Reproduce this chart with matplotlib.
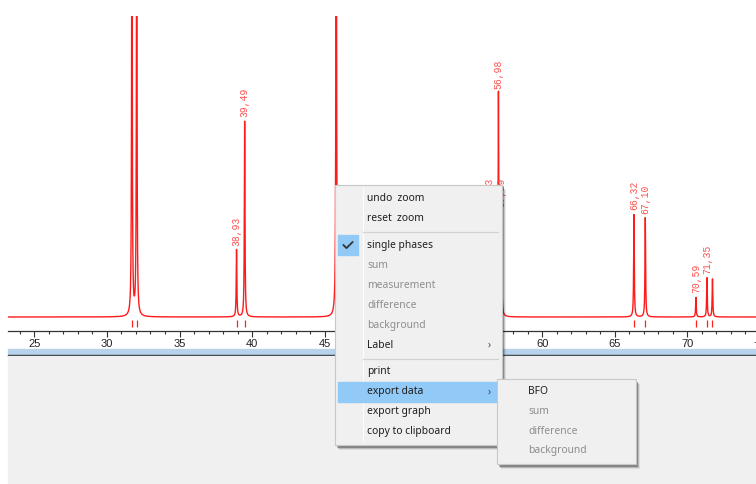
import matplotlib.pyplot as plt
from matplotlib.patches import Rectangle
from matplotlib.transforms import blended_transform_factory
import numpy as np

W, H = 756, 484

# BFO reflections: 2theta position and relative intensity (top of window = 100)
positions = [31.72, 32.05, 38.93, 39.49, 45.80, 56.33, 56.98, 57.19,
             66.32, 67.10, 70.59, 71.35, 71.73]
heights = [160, 150, 22.3, 65, 200, 35, 74.5, 35, 34, 33, 6.5, 13, 12.6]
labelled = [38.93, 39.49, 56.33, 56.98, 57.19, 66.32, 67.10, 70.59, 71.35]

xmin, xmax = 23.18, 74.73
ymax = 100
hwhm = 0.025

main_items = ["undo  zoom", "reset  zoom", None, "single phases", "sum",
              "measurement", "difference", "background", "Label", None,
              "print", "export data", "export graph", "copy to clipboard"]
disabled = ["sum", "measurement", "difference", "background"]
sub_items = ["BFO", "sum", "difference", "background"]


def box(x, y, w, h):
    return [x / W, 1 - (y + h) / H, w / W, h / H]


fig = plt.figure(figsize=(W / 100, H / 100), dpi=100)
fig.patch.set_facecolor("white")

# pattern
ax = fig.add_axes(box(8, 16, 748, 315))
tt = np.round(np.arange(23.0, 75.0, 0.01), 2)
y = np.zeros_like(tt)
for p, h in zip(positions, heights):
    y += h / (1 + ((tt - p) / hwhm) ** 2)
ax.plot(tt, y, color="#ff1a1a", lw=1.0)
ax.set_xlim(xmin, xmax)
ax.set_ylim(-ymax * 14 / 301, ymax)

trans = blended_transform_factory(ax.transData, ax.transAxes)
ax.vlines(positions, 0.013, 0.036, color="#ff2020", lw=0.9, transform=trans)

for p, h in zip(positions, heights):
    if p in labelled:
        ax.annotate(f"{p:.2f}".replace(".", ","), (p, h), xytext=(0, 3),
                    textcoords="offset points", rotation=90, ha="center",
                    va="bottom", fontsize=7, color="#ff5050",
                    family="Liberation Mono")

ax.set_yticks([])
ax.set_xticks(np.arange(25, 75, 5))
ax.set_xticks(np.arange(24, 75, 1), minor=True)
for s in ["top", "left", "right"]:
    ax.spines[s].set_visible(False)
ax.spines["bottom"].set_color("#333333")
ax.spines["bottom"].set_linewidth(0.9)
ax.tick_params(axis="x", which="major", length=4.5, width=0.8, color="#333333",
               labelsize=8, labelcolor="#222222", pad=1.5)
ax.tick_params(axis="x", which="minor", length=2.2, width=0.8, color="#333333")
for lab in ax.get_xticklabels():
    lab.set_family("Liberation Sans")
ax.text(75, -0.035, "75", transform=trans, ha="center", va="top", fontsize=8,
        color="#222222", family="Liberation Sans", clip_on=False)

# window chrome and context menu, in pixel coordinates
ov = fig.add_axes([0, 0, 1, 1], zorder=5)
ov.set_xlim(0, W)
ov.set_ylim(H, 0)
ov.axis("off")
ov.patch.set_visible(False)

ov.add_patch(Rectangle((8, 348.5), 748, 6.5, color="#b9d3ec"))
ov.add_patch(Rectangle((8, 355), 748, 1.3, color="#1c2a30"))
ov.add_patch(Rectangle((8, 356.3), 748, H - 356, color="#f0f0f0"))

menu_font = dict(family="Noto Sans", fontsize=7.4, va="center", zorder=4)


def shadow(x, y, w, h):
    for i, a in enumerate([0.28, 0.16, 0.08]):
        ov.add_patch(Rectangle((x + 2 + i, y + 3 + i), w, h, color="black",
                               alpha=a, lw=0, zorder=1))


# main menu
mx, my, mw, mh = 335, 185, 166.5, 260
shadow(mx, my, mw, mh)
ov.add_patch(Rectangle((mx, my), mw, mh, facecolor="#f0f0f0",
                       edgecolor="#c8c8c8", lw=0.8, zorder=1.5))
ov.add_patch(Rectangle((363, my + 2), 0.9, mh - 4, color="#fdfdfd", lw=0,
                       zorder=1.6))

row = 198.3
for item in main_items:
    if item is None:
        ov.plot([363, 498], [row - 6.6, row - 6.6], color="#d2d2d2", lw=0.9,
                zorder=2)
        row += 13.4 - 20 + 13.4
        continue
    if item == "export data":
        ov.add_patch(Rectangle((338, row - 10), 159, 20, color="#91c9f7",
                               zorder=2))
    if item == "single phases":
        ov.add_patch(Rectangle((338.3, row - 10), 19.5, 20, color="#91c9f7",
                               zorder=2))
        ov.plot([343.5, 346.5, 352.5], [row, row + 3, row - 3],
                color="#333333", lw=1.3, zorder=3)
    col = "#8d8d8d" if item in disabled else "#1e1e1e"
    ov.text(367.3, row, item, color=col, **menu_font)
    if item in ["Label", "export data"]:
        ov.text(489, row, "›", color="#444444", ha="center", **menu_font)
    row += 20

# submenu
sx, sy, sw, sh = 497, 379.3, 139, 84.7
shadow(sx, sy, sw, sh)
ov.add_patch(Rectangle((sx, sy), sw, sh, facecolor="#f0f0f0",
                       edgecolor="#c8c8c8", lw=0.8, zorder=2.5))
for i, item in enumerate(sub_items):
    col = "#1e1e1e" if item == "BFO" else "#8d8d8d"
    ov.text(528.3, 391 + 20 * i, item, color=col, **menu_font)

fig.savefig("out.png", dpi=100)
